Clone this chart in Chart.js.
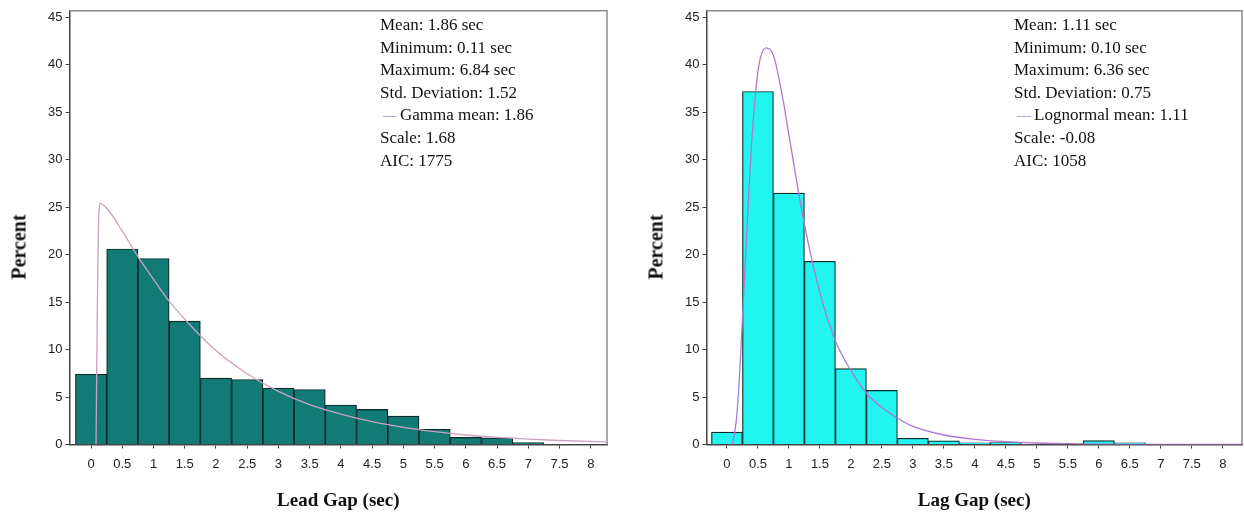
<!DOCTYPE html>
<html>
<head>
<meta charset="utf-8">
<script src="https://cdn.jsdelivr.net/npm/chart.js@4.4.1/dist/chart.umd.min.js"></script>
<style>
  html, body { margin: 0; padding: 0; background: #fff; overflow: hidden; }
  #wrap { position: relative; width: 1244px; height: 515px; }
  .box { position: absolute; top: 0; height: 515px; }
  .stats { position: absolute; top: 14px; font-family: "Liberation Serif", "Times New Roman", serif;
           font-size: 17px; line-height: 22.6px; color: #111; white-space: nowrap; }
  .sw { display: inline-block; width: 14px; height: 0; border-top: 1.5px solid; vertical-align: middle; margin: 0 3px 0 3px; }
  .ytit { position: absolute; top: 247px; font-family: "Liberation Serif", "Times New Roman", serif;
          font-size: 20px; font-weight: bold; color: #111; white-space: nowrap;
          transform: translate(-50%, -50%) rotate(-90deg); }
</style>
</head>
<body>
<div id="wrap">
  <div class="box" style="left:0;width:620px"><canvas id="leadChart"></canvas></div>
  <div class="box" style="left:620px;width:624px"><canvas id="lagChart"></canvas></div>
  <div class="stats" id="leadStats" style="left:380px"></div>
  <div class="stats" id="lagStats" style="left:1014px"></div>
  <div class="ytit" style="left:19px">Percent</div>
  <div class="ytit" style="left:656px">Percent</div>
</div>
<script>
// bins (centre of each 0.5 sec class)
var binMids = [0, 0.5, 1, 1.5, 2, 2.5, 3, 3.5, 4, 4.5, 5, 5.5, 6, 6.5, 7, 7.5, 8];
var xTicks = [0, 0.5, 1, 1.5, 2, 2.5, 3, 3.5, 4, 4.5, 5, 5.5, 6, 6.5, 7, 7.5, 8];
var yTicks = [0, 5, 10, 15, 20, 25, 30, 35, 40, 45];

// Lead gap histogram (percent)
var leadPct = [7.4, 20.6, 19.6, 13.0, 7.0, 6.85, 5.95, 5.8, 4.15, 3.7, 3.0, 1.6, 0.75, 0.7, 0.2, 0, 0];
// fitted gamma curve
var leadCurveX = [0.08, 0.1, 0.12, 0.15, 0.2, 0.3, 0.5, 0.75, 1, 1.25, 1.5, 2, 2.5, 3, 3.5, 4, 4.5, 5, 5.5, 6, 6.5, 7, 7.5, 8, 8.25];
var leadCurveY = [0, 14, 23.5, 25.4, 25.2, 24.5, 22.5, 19.8, 17.4, 15.1, 13.2, 9.9, 7.45, 5.6, 4.2, 3.2, 2.4, 1.8, 1.35, 1.0, 0.75, 0.56, 0.42, 0.32, 0.28];
var leadStats = ['Mean: 1.86 sec', 'Minimum: 0.11 sec', 'Maximum: 6.84 sec', 'Std. Deviation: 1.52',
                 'Gamma mean: 1.86', 'Scale: 1.68', 'AIC: 1775'];

// Lag gap histogram (percent)
var lagPct = [1.3, 37.2, 26.5, 19.3, 8.0, 5.7, 0.65, 0.38, 0.17, 0.2, 0, 0, 0.4, 0.17, 0, 0, 0];
// fitted lognormal curve
var lagCurveX = [0.08, 0.1, 0.15, 0.2, 0.3, 0.4, 0.5, 0.63, 0.75, 0.9, 1, 1.25, 1.5, 1.75, 2, 2.25, 2.5, 2.85, 3, 3.5, 4, 4.5, 5, 5.5, 6, 7, 8, 8.3];
var lagCurveY = [0, 0.4, 2.5, 6.9, 19.8, 31.9, 39.3, 41.8, 41.0, 36.5, 32.6, 23.2, 16.0, 10.9, 7.8, 5.4, 3.9, 2.4, 1.9, 1.0, 0.55, 0.3, 0.16, 0.09, 0.05, 0.02, 0.01, 0.01];
var lagStats = ['Mean: 1.11 sec', 'Minimum: 0.10 sec', 'Maximum: 6.36 sec', 'Std. Deviation: 0.75',
                'Lognormal mean: 1.11', 'Scale: -0.08', 'AIC: 1058'];

var framePlugin = {
    id: 'frame',
    afterDraw: function (chart) {
        var a = chart.chartArea, ctx = chart.ctx;
        ctx.save();
        ctx.strokeStyle = '#8c8c8c';
        ctx.lineWidth = 1.5;
        ctx.beginPath();
        ctx.moveTo(a.left, a.top);
        ctx.lineTo(a.right, a.top);
        ctx.lineTo(a.right, a.bottom);
        ctx.stroke();
        ctx.restore();
    }
};

var toPoints = function (xs, ys) {
    var pts = [];
    for (var i = 0; i < xs.length; i++) pts.push({ x: xs[i], y: ys[i] });
    return pts;
};

var CrearHistograma = function (id, cfg) {
    var bars = toPoints(binMids, cfg.pct);
    new Chart(document.getElementById(id), {
        data: {
            datasets: [{
                type: 'line',
                data: toPoints(cfg.curveX, cfg.curveY),
                borderColor: cfg.curveColor,
                borderWidth: 1.3,
                pointRadius: 0,
                cubicInterpolationMode: 'monotone',
                order: 0
            }, {
                type: 'bar',
                data: bars,
                backgroundColor: cfg.barColor,
                borderColor: '#0b2b2b',
                borderWidth: 1.2,
                barPercentage: 1,
                categoryPercentage: 1,
                grouped: false,
                order: 1
            }]
        },
        options: {
            responsive: true,
            maintainAspectRatio: false,
            animation: false,
            events: [],
            layout: { padding: { left: 0, right: cfg.padRight, top: 8, bottom: 0 } },
            plugins: { legend: { display: false }, tooltip: { enabled: false } },
            scales: {
                x: {
                    type: 'linear',
                    offset: false,
                    min: cfg.xMin,
                    max: cfg.xMax,
                    afterFit: function (s) { s.height = 70.5; },
                    afterBuildTicks: function (s) { s.ticks = xTicks.map(function (v) { return { value: v }; }); },
                    ticks: {
                        autoSkip: false, maxRotation: 0, padding: 8, color: '#222',
                        font: { family: 'Liberation Sans, Arial, sans-serif', size: 13 },
                        callback: function (v) { return String(v); }
                    },
                    grid: { offset: false, drawOnChartArea: false, drawTicks: true, tickLength: 4, color: '#444' },
                    border: { display: true, color: '#444', width: 1.5 },
                    title: {
                        display: true, text: cfg.xTitle, color: '#111',
                        font: { family: 'Liberation Serif, Times New Roman, serif', size: 19, weight: 'bold' },
                        padding: { top: 3, bottom: 3 }
                    }
                },
                y: {
                    min: 0,
                    max: 45.7,
                    afterFit: function (s) { s.width = cfg.yWidth; },
                    afterBuildTicks: function (s) { s.ticks = yTicks.map(function (v) { return { value: v }; }); },
                    ticks: {
                        padding: 3, color: '#222',
                        font: { family: 'Liberation Sans, Arial, sans-serif', size: 13 }
                    },
                    grid: { drawOnChartArea: false, drawTicks: true, tickLength: 4, color: '#444' },
                    border: { display: true, color: '#444', width: 1.5 },
                    title: { display: false }
                }
            }
        },
        plugins: [framePlugin]
    });
};

var EscribirStats = function (id, lines, color) {
    var el = document.getElementById(id);
    var html = '';
    for (var i = 0; i < lines.length; i++) {
        if (i === 4) {
            html += '<div><span class="sw" style="border-color:' + color + '"></span>' + lines[i] + '</div>';
        } else {
            html += '<div>' + lines[i] + '</div>';
        }
    }
    el.innerHTML = html;
};

CrearHistograma('leadChart', {
    pct: leadPct, curveX: leadCurveX, curveY: leadCurveY,
    barColor: '#137b76', curveColor: '#c9a3bf',
    xMin: -0.345, xMax: 8.26, padRight: 13, yWidth: 69.5,
    xTitle: 'Lead Gap (sec)'
});
CrearHistograma('lagChart', {
    pct: lagPct, curveX: lagCurveX, curveY: lagCurveY,
    barColor: '#22f4ef', curveColor: '#ad78d4',
    xMin: -0.33, xMax: 8.31, padRight: 2, yWidth: 86.5,
    xTitle: 'Lag Gap (sec)'
});
EscribirStats('leadStats', leadStats, '#bca6d6');
EscribirStats('lagStats', lagStats, '#bca6d6');
</script>
</body>
</html>
